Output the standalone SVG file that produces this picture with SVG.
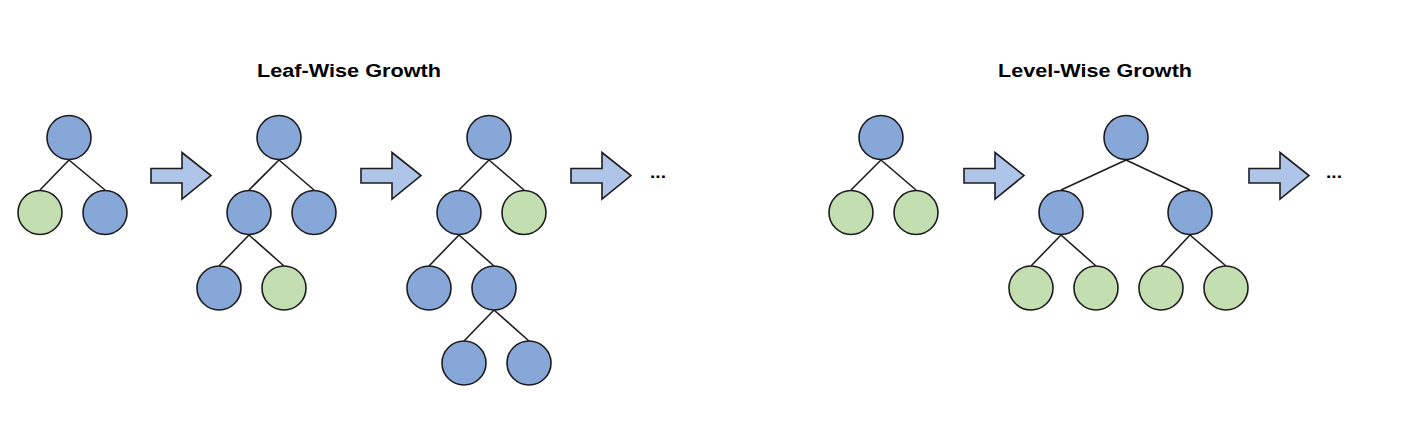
<svg xmlns="http://www.w3.org/2000/svg" width="1408" height="428" viewBox="0 0 1408 428">
<defs>
<style>
.b{fill:#88A7D9;stroke:#1c1c1c;stroke-width:1.6}
.g{fill:#C3DFB1;stroke:#1c1c1c;stroke-width:1.6}
.e{stroke:#1c1c1c;stroke-width:1.6;fill:none}
.a{fill:#AEC4E8;stroke:#1c1c1c;stroke-width:1.6;stroke-linejoin:miter}
.t{font-family:"Liberation Sans",Arial,sans-serif;font-weight:bold;font-size:17.5px;fill:#000}
.d{font-family:"Liberation Sans",Arial,sans-serif;font-weight:bold;font-size:17px;fill:#000}
</style>
<path id="arr" d="M0,16.5 H31 V0.5 L60,23.5 L31,47 V31 H0 Z"/>
</defs>
<rect width="1408" height="428" fill="#fff"/>
<g id="titles">
<text class="t" x="257" y="76.5" textLength="184" lengthAdjust="spacingAndGlyphs">Leaf-Wise Growth</text>
<text class="t" x="998" y="76.5" textLength="194" lengthAdjust="spacingAndGlyphs">Level-Wise Growth</text>
</g>
<g id="connectors">
<!-- tree 1 -->
<line class="e" x1="69" y1="160" x2="40" y2="190"/>
<line class="e" x1="69" y1="160" x2="105" y2="190"/>
<!-- tree 2 -->
<line class="e" x1="279" y1="160" x2="249" y2="190"/>
<line class="e" x1="279" y1="160" x2="314" y2="190"/>
<line class="e" x1="249" y1="235" x2="219" y2="266"/>
<line class="e" x1="249" y1="235" x2="284" y2="266"/>
<!-- tree 3 -->
<line class="e" x1="489" y1="160" x2="459" y2="190"/>
<line class="e" x1="489" y1="160" x2="524" y2="190"/>
<line class="e" x1="459" y1="235" x2="429" y2="266"/>
<line class="e" x1="459" y1="235" x2="494" y2="266"/>
<line class="e" x1="494" y1="310" x2="464" y2="341"/>
<line class="e" x1="494" y1="310" x2="529" y2="341"/>
<!-- tree 4 -->
<line class="e" x1="881" y1="160" x2="851" y2="190"/>
<line class="e" x1="881" y1="160" x2="916" y2="190"/>
<!-- tree 5 -->
<line class="e" x1="1126" y1="160" x2="1061" y2="190"/>
<line class="e" x1="1126" y1="160" x2="1190" y2="190"/>
<line class="e" x1="1061" y1="235" x2="1031" y2="266"/>
<line class="e" x1="1061" y1="235" x2="1096" y2="266"/>
<line class="e" x1="1190" y1="235" x2="1161" y2="266"/>
<line class="e" x1="1190" y1="235" x2="1226" y2="266"/>
</g>
<g id="arrows">
<use href="#arr" class="a" x="151" y="152"/>
<use href="#arr" class="a" x="361" y="152"/>
<use href="#arr" class="a" x="571" y="152"/>
<use href="#arr" class="a" x="964" y="152"/>
<use href="#arr" class="a" x="1249" y="152"/>
<text class="d" x="650" y="178" textLength="16" lengthAdjust="spacingAndGlyphs">...</text>
<text class="d" x="1326" y="178" textLength="16" lengthAdjust="spacingAndGlyphs">...</text>
</g>
<g id="tree1">
<circle class="b" cx="69" cy="137.5" r="22"/>
<circle class="g" cx="40" cy="212.5" r="22"/>
<circle class="b" cx="105" cy="212.5" r="22"/>
</g>
<g id="tree2">
<circle class="b" cx="279" cy="137.5" r="22"/>
<circle class="b" cx="249" cy="212.5" r="22"/>
<circle class="b" cx="314" cy="212.5" r="22"/>
<circle class="b" cx="219" cy="288" r="22"/>
<circle class="g" cx="284" cy="288" r="22"/>
</g>
<g id="tree3">
<circle class="b" cx="489" cy="137.5" r="22"/>
<circle class="b" cx="459" cy="212.5" r="22"/>
<circle class="g" cx="524" cy="212.5" r="22"/>
<circle class="b" cx="429" cy="288" r="22"/>
<circle class="b" cx="494" cy="288" r="22"/>
<circle class="b" cx="464" cy="363" r="22"/>
<circle class="b" cx="529" cy="363" r="22"/>
</g>
<g id="tree4">
<circle class="b" cx="881" cy="137.5" r="22"/>
<circle class="g" cx="851" cy="212.5" r="22"/>
<circle class="g" cx="916" cy="212.5" r="22"/>
</g>
<g id="tree5">
<circle class="b" cx="1126" cy="137.5" r="22"/>
<circle class="b" cx="1061" cy="212.5" r="22"/>
<circle class="b" cx="1190" cy="212.5" r="22"/>
<circle class="g" cx="1031" cy="288" r="22"/>
<circle class="g" cx="1096" cy="288" r="22"/>
<circle class="g" cx="1161" cy="288" r="22"/>
<circle class="g" cx="1226" cy="288" r="22"/>
</g>
</svg>
